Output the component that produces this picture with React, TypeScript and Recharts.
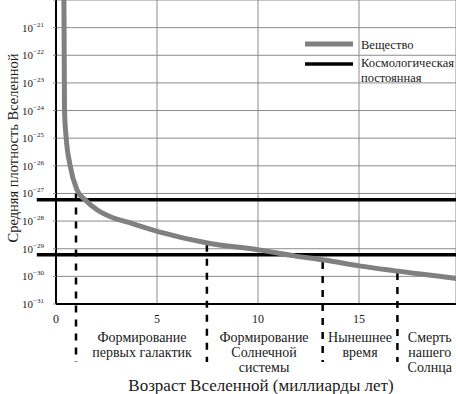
import React from "react";
import {
  ComposedChart,
  Line,
  XAxis,
  YAxis,
  CartesianGrid,
  ReferenceLine,
  Legend,
} from "recharts";

// Age of universe (billions of years) vs. mean density (g/cm^3)
const matterAge = [0.39, 0.42, 0.5, 0.69, 1.04, 1.44, 2.03, 2.82, 3.5, 5.1, 7.5, 10.05, 11.8, 13.3, 15.0, 16.8, 19.65, 20.2];
const matterDensity = [2.5e-20, 1.07e-24, 1.12e-25, 1.1e-26, 1.35e-27, 5.9e-28, 2.57e-28, 1.32e-28, 9.3e-29, 4.1e-29, 1.62e-29, 9.1e-30, 5.5e-30, 3.9e-30, 2.4e-30, 1.58e-30, 8.7e-31, 7.6e-31];

const lambdaLevels = [5.9e-28, 6.0e-30];

const epochAges = [0.99, 7.47, 13.2, 16.9];
const epochCurveDensity = [1.0e-27, 1.38e-29, 3.3e-30, 1.32e-30];
const epochBottomDensity = 8e-34;

const phaseCenters = [4.26, 10.3, 15.05, 18.5];
const phaseLabels = [
  ["Формирование", "первых галактик"],
  ["Формирование", "Солнечной", "системы"],
  ["Нынешнее", "время"],
  ["Смерть", "нашего", "Солнца"],
];

const xTicks = [0, 5, 10, 15];
const yTicks = [1e-31, 1e-30, 1e-29, 1e-28, 1e-27, 1e-26, 1e-25, 1e-24, 1e-23, 1e-22, 1e-21, 1e-20];
const yTickLabels = ["−31", "−30", "−29", "−28", "−27", "−26", "−25", "−24", "−23", "−22", "−21", ""];

const xTitle = "Возраст Вселенной (миллиарды лет)";
const yTitle = "Средняя плотность Вселенной";

const legendItems = [
  { name: "Вещество", lines: ["Вещество"], color: "#808080", width: 5 },
  { name: "Космологическая постоянная", lines: ["Космологическая", "постоянная"], color: "#000000", width: 3.5 },
];

const data = matterAge.map((t, i) => ({ t, matter: matterDensity[i] }));

const FONT = "Liberation Serif, DejaVu Serif, serif";
const GRID = "#8c8c8c";
const TEXT = "#1a1a1a";
const CHART_W = 456;
const CHART_H = 394;

const YTick = (props: any) => {
  const { x, y, payload } = props;
  const idx = yTicks.findIndex((v) => Math.abs(Math.log10(v) - Math.log10(payload.value)) < 0.01);
  const exp = idx >= 0 ? yTickLabels[idx] : "";
  if (!exp) return null;
  return (
    <text x={x} y={y + 4} textAnchor="end" style={{ fontFamily: FONT, fontSize: 11 }} fill={TEXT}>
      10
      <tspan style={{ fontSize: 7 }} dy={-5}>{exp}</tspan>
    </text>
  );
};

const XTick = (props: any) => {
  const { x, y, payload } = props;
  return (
    <text x={x} y={y + 11} textAnchor="middle" style={{ fontFamily: FONT, fontSize: 12 }} fill={TEXT}>
      {payload.value}
    </text>
  );
};

const PhaseTick = (props: any) => {
  const { x, y, payload } = props;
  const idx = phaseCenters.findIndex((v) => Math.abs(v - payload.value) < 0.001);
  const lines = idx >= 0 ? phaseLabels[idx] : [];
  return (
    <text x={x} textAnchor="middle" style={{ fontFamily: FONT, fontSize: 14 }} fill={TEXT}>
      {lines.map((l, i) => (
        <tspan key={i} x={x} y={y + 10 + i * 15}>
          {l}
        </tspan>
      ))}
    </text>
  );
};

const XTitle = () => (
  <text
    x={261}
    y={CHART_H - 3}
    textAnchor="middle"
    style={{ fontFamily: FONT, fontSize: 17 }}
    fill={TEXT}
  >
    {xTitle}
  </text>
);

const YTitle = () => {
  const cx = 13;
  const cy = 148;
  return (
    <text
      x={cx}
      y={cy}
      transform={`rotate(-90, ${cx}, ${cy})`}
      textAnchor="middle"
      dominantBaseline="central"
      style={{ fontFamily: FONT, fontSize: 14.5 }}
      fill={TEXT}
    >
      {yTitle}
    </text>
  );
};

const LegendContent = () => (
  <svg width={CHART_W} height={100} style={{ display: "block" }}>
    {legendItems.map((it, i) => {
      const ly = i === 0 ? 44 : 64;
      return (
        <g key={it.name}>
          <line x1={305} x2={353} y1={ly} y2={ly} stroke={it.color} strokeWidth={it.width} />
          <text style={{ fontFamily: FONT, fontSize: 12.5 }} fill={TEXT}>
            {it.lines.map((w, j) => (
              <tspan key={j} x={361} y={(i === 0 ? 49 : 67) + j * 15}>
                {w}
              </tspan>
            ))}
          </text>
        </g>
      );
    })}
  </svg>
);

export default function App() {
  return (
    <div
      style={{
        position: "absolute",
        left: 0,
        top: 0,
        width: CHART_W,
        height: CHART_H,
        background: "#fff",
        overflow: "hidden",
      }}
    >
      <ComposedChart
        width={CHART_W}
        height={CHART_H}
        data={data}
        margin={{ top: 0, right: 0, left: 0, bottom: 0 }}
      >
        <CartesianGrid stroke={GRID} strokeWidth={1} vertical={true} horizontal={true} />
        <XAxis
          dataKey="t"
          type="number"
          domain={[0, 19.8]}
          allowDataOverflow
          ticks={xTicks}
          tick={<XTick />}
          tickLine={false}
          axisLine={{ stroke: "#000", strokeWidth: 2 }}
          height={20}
          interval={0}
        />
        <XAxis
          xAxisId="phase"
          dataKey="t"
          type="number"
          domain={[0, 19.8]}
          allowDataOverflow
          ticks={phaseCenters}
          tick={<PhaseTick />}
          tickLine={false}
          axisLine={false}
          height={70}
          interval={0}
        />
        <YAxis
          type="number"
          scale="log"
          domain={[1e-31, 1e-20]}
          allowDataOverflow
          ticks={yTicks}
          tick={<YTick />}
          tickSize={3}
          tickMargin={9}
          tickLine={{ stroke: GRID }}
          axisLine={{ stroke: "#000", strokeWidth: 2 }}
          width={56}
          interval={0}
        />
        <Legend
          layout="vertical"
          align="center"
          verticalAlign="middle"
          content={<LegendContent />}
          wrapperStyle={{ position: "absolute", left: 0, top: 0, width: CHART_W, height: 100 }}
        />
        {lambdaLevels.map((v, i) => (
          <ReferenceLine
            key={"l" + i}
            segment={[
              { x: -0.95, y: v },
              { x: 19.8, y: v },
            ]}
            stroke="#000"
            strokeWidth={3.5}
            ifOverflow="visible"
          />
        ))}
        {epochAges.map((t, i) => (
          <ReferenceLine
            key={"e" + i}
            segment={[
              { x: t, y: epochCurveDensity[i] },
              { x: t, y: epochBottomDensity },
            ]}
            stroke="#000"
            strokeWidth={2.5}
            strokeDasharray="7 7"
            ifOverflow="visible"
          />
        ))}
        <Line
          dataKey="matter"
          type="monotone"
          stroke="#808080"
          strokeWidth={5}
          dot={false}
          isAnimationActive={false}
          legendType="none"
        />
        <XTitle />
        <YTitle />
      </ComposedChart>
    </div>
  );
}
